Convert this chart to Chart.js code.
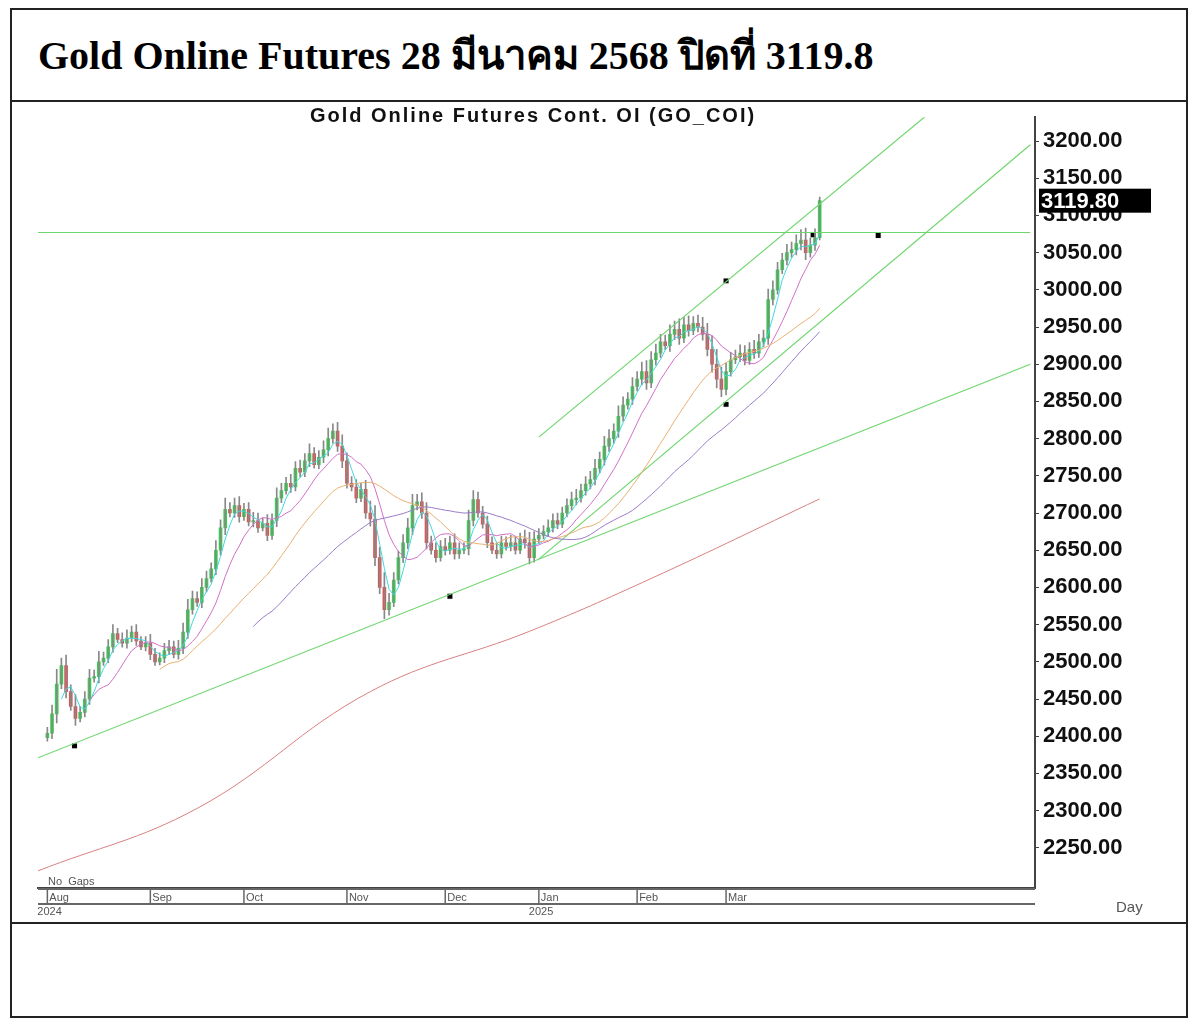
<!DOCTYPE html>
<html>
<head>
<meta charset="utf-8">
<script src="https://cdn.jsdelivr.net/npm/chart.js@4/dist/chart.umd.min.js"></script>
<style>
  body { margin: 0; background: #fff; }
  #frame { position: absolute; left: 10px; top: 8px; width: 1178px; height: 1010px; border: 2px solid #222; box-sizing: border-box; }
  #head { position: absolute; left: 0; top: 0; width: 100%; height: 92px; border-bottom: 2px solid #222; box-sizing: border-box;
          font-family: "Liberation Serif", "DejaVu Serif", serif; font-weight: bold; font-size: 40px; line-height: 92px; padding-left: 26px; }
  #foot { position: absolute; left: 0; top: 912px; width: 100%; height: 1px; border-top: 2px solid #222; }
  #box { position: absolute; left: 30px; top: 100px; width: 1150px; height: 820px; }
</style>
</head>
<body>
<div id="frame"><div id="head">Gold Online Futures 28 มีนาคม 2568 ปิดที่ 3119.8</div><div id="foot"></div></div>
<div id="box"><canvas id="grafico"></canvas></div>
<script>
// closes by trading day, from Aug 1 2024 to Mar 28 2025
const fechamentos = [
  2404,2430,2470,2495,2460,2440,2424,2432,2450,2478,
  2480,2500,2505,2520,2538,2530,2525,2532,2540,2528,
  2520,2525,2510,2500,2505,2515,2520,2510,2518,2540,
  2570,2585,2580,2600,2612,2625,2650,2680,2705,2700,
  2710,2695,2705,2688,2690,2680,2686,2670,2690,2720,
  2730,2740,2735,2760,2755,2770,2780,2765,2775,2785,
  2800,2810,2790,2770,2740,2735,2720,2732,2700,2692,
  2640,2600,2570,2580,2610,2640,2660,2680,2710,2715,
  2700,2660,2650,2640,2655,2650,2660,2645,2650,2652,
  2690,2718,2700,2685,2660,2650,2645,2660,2655,2660,
  2650,2665,2660,2640,2665,2670,2675,2680,2690,2685,
  2700,2710,2718,2720,2730,2739,2745,2760,2772,2790,
  2800,2810,2830,2845,2853,2870,2880,2890,2875,2906,
  2915,2930,2925,2940,2947,2935,2953,2945,2955,2950,
  2940,2920,2900,2880,2866,2890,2906,2910,2915,2905,
  2920,2915,2930,2935,2987,3000,3027,3040,3050,3054,
  3062,3067,3050,3060,3070,3119.8
];
const abertura0 = 2398;
const pavios = [
  8,12,20,10,14,9,16,8,10,12, 9,14,8,10,12,7,9,11,8,10,
  6,9,12,8,7,10,9,8,11,12, 14,10,9,12,10,8,13,11,15,9,
  10,12,8,9,11,10,7,12,9,14, 10,8,12,9,11,10,13,8,9,12,
  14,10,12,15,11,9,10,8,12,16, 18,14,20,12,10,9,11,13,15,10,
  12,14,9,10,8,11,9,12,10,8, 14,12,10,9,11,8,10,9,8,10,
  9,8,12,14,10,9,8,11,9,10, 8,9,10,12,9,10,11,12,10,13,
  12,10,14,11,9,12,10,13,15,11, 12,10,9,13,11,14,10,12,9,11,
  13,15,18,20,16,12,10,9,11,10, 9,12,10,11,14,12,10,9,11,10,
  12,14,16,10,12,5
];
const inicioMes = [0, 22, 42, 64, 85, 105, 126, 145];
const nomesMes = ['Aug', 'Sep', 'Oct', 'Nov', 'Dec', 'Jan', 'Feb', 'Mar'];
const anos = { 0: '2024', 105: '2025' };
const ticksPreco = [2250,2300,2350,2400,2450,2500,2550,2600,2650,2700,2750,2800,2850,2900,2950,3000,3050,3100,3150,3200];
// long moving average
const mediaLongaX = [-2, 32, 69, 103, 129, 165];
const mediaLongaY = [2219, 2303, 2460, 2541, 2612, 2719];
// trend lines [x1, y1, x2, y2]
const linhasTendencia = [
  [-2, 2371, 210, 2900],
  [-2, 3077, 210, 3077],
  [105, 2802, 191, 3251],
  [105, 2638, 210, 3195]
];
const pontosX = [5.8, 86, 145, 145, 163.6, 177.5];
const pontosY = [2387, 2588, 3012, 2846, 3074, 3073];

const aberturas = fechamentos.map((c, i) => i === 0 ? abertura0 : fechamentos[i - 1]);
const corpos = fechamentos.map((c, i) => ({ x: i, y: [aberturas[i], c] }));
const sombras = fechamentos.map((c, i) => ({ x: i, y: [Math.min(aberturas[i], c) - pavios[i] * 0.6, Math.max(aberturas[i], c) + pavios[i]] }));
const coresCorpo = fechamentos.map((c, i) => c >= aberturas[i] ? '#2fd94a' : '#e05050');

function media(n) {
  return fechamentos.map((c, i) => {
    if (i < n - 1) return null;
    let s = 0;
    for (let k = i - n + 1; k <= i; k++) s += fechamentos[k];
    return { x: i, y: s / n };
  }).filter(p => p);
}

const datasets = [
  { type: 'line', data: mediaLongaX.map((x, i) => ({ x, y: mediaLongaY[i] })), borderColor: '#d98080', borderWidth: 1, pointRadius: 0, tension: 0.4 },
  { type: 'line', data: media(45), borderColor: '#9a7cc8', borderWidth: 1, pointRadius: 0 },
  { type: 'line', data: media(25), borderColor: '#e8b070', borderWidth: 1, pointRadius: 0 },
  { type: 'line', data: media(10), borderColor: '#d070c8', borderWidth: 1, pointRadius: 0 },
  { type: 'line', data: media(4), borderColor: '#40d8e0', borderWidth: 1, pointRadius: 0 },
  ...linhasTendencia.map(l => ({ type: 'line', data: [{ x: l[0], y: l[1] }, { x: l[2], y: l[3] }], borderColor: '#6fd66f', borderWidth: 1.2, pointRadius: 0 })),
  { type: 'bar', data: sombras, backgroundColor: '#888', barThickness: 1, grouped: false },
  { type: 'bar', data: corpos, backgroundColor: coresCorpo, barThickness: 3, grouped: false, minBarLength: 1 },
  { type: 'scatter', data: pontosX.map((x, i) => ({ x, y: pontosY[i] })), backgroundColor: '#000', pointRadius: 3.5, pointStyle: 'rect' }
];

const extras = {
  id: 'extras',
  afterDraw(chart) {
    const ctx = chart.ctx, a = chart.chartArea, ys = chart.scales.y, xs = chart.scales.x;
    ctx.save();
    ctx.fillStyle = '#111';
    ctx.font = 'bold 20px "Liberation Sans", Arial';
    ctx.textAlign = 'center';
    ctx.textBaseline = 'top';
    if (ctx.letterSpacing !== undefined) ctx.letterSpacing = '2px';
    ctx.fillText('Gold Online Futures Cont. OI (GO_COI)', 503, 6);
    if (ctx.letterSpacing !== undefined) ctx.letterSpacing = '0px';
    ctx.font = '11px "Liberation Sans", Arial';
    ctx.fillStyle = '#555';
    ctx.textAlign = 'left';
    ctx.fillText('No  Gaps', a.left + 10, a.bottom - 12);
    // month strip
    ctx.strokeStyle = '#666';
    ctx.lineWidth = 2;
    ctx.beginPath();
    ctx.moveTo(a.left, a.bottom + 1); ctx.lineTo(a.right, a.bottom + 1);
    ctx.moveTo(a.left, a.bottom + 16); ctx.lineTo(a.right, a.bottom + 16);
    ctx.stroke();
    ctx.lineWidth = 1.5;
    inicioMes.forEach((d, i) => {
      const px = xs.getPixelForValue(d);
      ctx.beginPath(); ctx.moveTo(px, a.bottom + 1); ctx.lineTo(px, a.bottom + 16); ctx.stroke();
      ctx.fillText(nomesMes[i], px + 2, a.bottom + 4);
      if (anos[d]) ctx.fillText(anos[d], px - 10, a.bottom + 18);
    });
    ctx.font = '15px "Liberation Sans", Arial';
    ctx.fillText('Day', 1086, 800);
    const ult = fechamentos[fechamentos.length - 1];
    const py = ys.getPixelForValue(ult);
    ctx.fillStyle = '#000';
    ctx.fillRect(a.right + 4, py - 12, 112, 24);
    ctx.fillStyle = '#fff';
    ctx.font = 'bold 22px "Liberation Sans", Arial';
    ctx.textBaseline = 'middle';
    ctx.fillText(ult.toFixed(2), a.right + 6, py + 1);
    ctx.restore();
  }
};

new Chart(document.getElementById('grafico'), {
  data: { datasets },
  options: {
    responsive: true,
    maintainAspectRatio: false,
    animation: false,
    layout: { padding: { left: 8, top: 3, right: 0, bottom: 24 } },
    plugins: { legend: { display: false }, tooltip: { enabled: false } },
    scales: {
      x: {
        type: 'linear', min: -2, max: 211, offset: false,
        ticks: { display: false },
        grid: { display: false },
        border: { color: '#444', width: 2 }
      },
      y: {
        position: 'right', min: 2196, max: 3232,
        afterBuildTicks: s => { s.ticks = ticksPreco.map(v => ({ value: v })); },
        afterFit: s => { s.width = 145; },
        ticks: { callback: v => v.toFixed(2), color: '#111', font: { size: 22, weight: 'bold', family: '"Liberation Sans", Arial' }, padding: 4 },
        grid: { drawOnChartArea: false, tickLength: 4, color: '#444' },
        border: { color: '#444', width: 2 }
      }
    }
  },
  plugins: [extras]
});
</script>
</body>
</html>
